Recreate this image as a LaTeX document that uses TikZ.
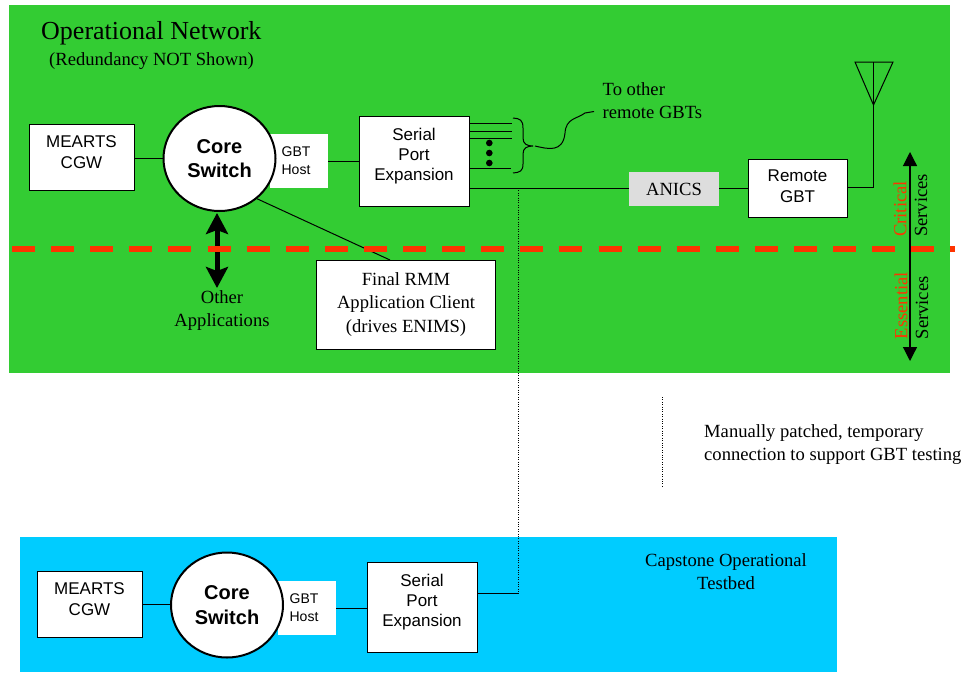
\documentclass[tikz,border=0pt]{standalone}
\usepackage{fontspec}
\setmainfont{Liberation Serif}
\setsansfont{Liberation Sans}
\usetikzlibrary{arrows.meta,shapes.geometric,calc}
\definecolor{netgreen}{HTML}{33CC33}
\definecolor{testblue}{HTML}{00CCFF}
\definecolor{critred}{HTML}{FF3300}
\definecolor{anicsgray}{HTML}{DDDDDD}
\newcommand{\toptext}[4]{\parbox[c][#1][t]{#2}{\centering\vspace*{#3}#4}}
\tikzset{
  box/.style={draw=black,fill=white,line width=1pt,inner sep=0pt,font=\sffamily\fontsize{17}{20.3}\selectfont},
  serifbox/.style={draw=black,fill=white,line width=1pt,inner sep=0pt,align=center,font=\fontsize{18.6}{23.3}\selectfont},
  hub/.style={ellipse,draw=black,fill=white,line width=2pt,minimum width=112pt,minimum height=105pt,inner sep=0pt,align=center,font=\sffamily\bfseries\fontsize{20}{24.6}\selectfont},
  tag/.style={fill=white,inner sep=0pt,font=\sffamily\fontsize{14}{18}\selectfont},
  lab/.style={align=center,inner sep=0pt,font=\fontsize{18.6}{23}\selectfont},
  lnk/.style={draw=black,line width=1pt},
  patch/.style={draw=black,line width=1pt,dash pattern=on 1pt off 1.4pt},
  vlab/.style={rotate=90,anchor=west,inner sep=0pt,font=\fontsize{18.6}{20}\selectfont},
  bigarrow/.style={draw=black,line width=5pt,{Stealth[length=21pt,width=22pt,inset=4pt]}-{Stealth[length=21pt,width=22pt,inset=4pt]}},
  thinarrow/.style={draw=black,line width=1.2pt,{Triangle[length=14pt,width=14pt]}-{Triangle[length=14pt,width=14pt]}},
  cutline/.style={draw=critred,line width=5.5pt,dash pattern=on 23pt off 16.1pt},
}
\begin{document}
\begin{tikzpicture}[x=1pt,y=-1pt]
\useasboundingbox (0,0) rectangle (963,672);
\fill[netgreen] (9,5) rectangle (950,373);
\fill[testblue] (20,537) rectangle (837,672);
% titles and free labels
\node[lab,anchor=west,font=\fontsize{26}{28}\selectfont] (title) at (41,33) {Operational Network};
\node[lab,anchor=west] (sub) at (49,61) {(Redundancy NOT Shown)};
\node[lab] (apps) at (222,310.5) {Other\\Applications};
\node[lab,anchor=west,align=left] (remote) at (602.5,101) {\hspace*{0pt}To other\\remote GBTs};
\node[lab,anchor=west,align=left] (manual) at (704,444.5) {Manually patched, temporary\\connection to support GBT testing};
\node[lab] (capstone) at (726,571.5) {Capstone Operational\\Testbed};
\node[vlab,text=critred] (crit) at (900,237) {Critical};
\node[vlab] (svc1) at (921,237) {Services};
\node[vlab,text=critred] (ess) at (901,339.5) {Essential};
\node[vlab] (svc2) at (922,339.5) {Services};
% operational nodes
\node[box,minimum width=105pt,minimum height=66pt] (cgw) at (81.5,157) {\toptext{66pt}{100pt}{12pt}{MEARTS\\CGW}};
\node[tag,minimum width=58pt,minimum height=54pt] (host) at (299,161) {\parbox{56pt}{\centering\hspace*{-6pt}GBT\\\hspace*{-6pt}Host}};
\node[hub] (core) at (219.5,158.5) {Core\\Switch};
\node[box,minimum width=110pt,minimum height=90pt] (spe) at (414,161) {\toptext{90pt}{105pt}{12pt}{Serial\\Port\\Expansion}};
\node[fill=anicsgray,inner sep=0pt,minimum width=90pt,minimum height=34pt,font=\fontsize{18.6}{20}\selectfont] (anics) at (674,189) {ANICS};
\node[box,minimum width=99pt,minimum height=58pt] (gbt) at (797.5,188) {\toptext{58pt}{95pt}{11pt}{Remote\\GBT}};
\node[serifbox,minimum width=179.5pt,minimum height=89pt] (rmm) at (406,304.5) {Final RMM\\Application Client\\(drives ENIMS)};
% testbed nodes
\node[box,minimum width=105pt,minimum height=66pt] (cgwb) at (89.5,604) {\toptext{66pt}{100pt}{12pt}{MEARTS\\CGW}};
\node[tag,minimum width=58pt,minimum height=54pt] (hostb) at (307,608) {\parbox{56pt}{\centering\hspace*{-6pt}GBT\\\hspace*{-6pt}Host}};
\node[hub] (coreb) at (227,605) {Core\\Switch};
\node[box,minimum width=110pt,minimum height=90pt] (speb) at (422,607) {\toptext{90pt}{105pt}{12pt}{Serial\\Port\\Expansion}};
% helper coordinates
\coordinate (p1) at (512,123.5);
\coordinate (p2) at (512,131);
\coordinate (p3) at (512,138);
\coordinate (p4) at (511,168.7);
\coordinate (brtip) at (533,146);
\coordinate (sq) at (535,146);
\coordinate (sqend) at (594,111.5);
\coordinate (ant) at (873.5,62);
\coordinate (antl) at (855,62);
\coordinate (antr) at (893,62);
\coordinate (apex) at (873.5,105);
\coordinate (bend) at (873.5,187.5);
\coordinate (rmmin) at (390,260);
\coordinate (tap) at (518.5,188);
\coordinate (tapb) at (518.5,593);
\coordinate (sw1) at (217,213);
\coordinate (sw2) at (217,288);
\coordinate (sv1) at (910,152);
\coordinate (sv2) at (910,361);
\coordinate (cutl) at (12,249);
\coordinate (cutr) at (955,249);
\coordinate (leg1) at (662,397);
\coordinate (leg2) at (662,488);
% operational links
\draw[lnk] (cgw.east |- 0,158) -- (core.west |- 0,158);
\draw[lnk] (host.east) -- (spe.west);
\draw[lnk] (core.-47) -- (rmmin);
\draw[lnk] (spe.east |- p1) -- (p1);
\draw[lnk] (spe.east |- p2) -- (p2);
\draw[lnk] (spe.east |- p3) -- (p3);
\draw[lnk] (spe.east |- p4) -- (p4);
\draw[lnk] (spe.east |- tap) -- (anics.west |- tap);
\draw[lnk] (anics.east |- tap) -- (gbt.west |- tap);
\draw[lnk] (gbt.east |- bend) -- (bend) -- (ant);
\draw[lnk,line join=miter] (antl) -- (antr) -- (apex) -- cycle;
\fill[black] (489.3,143) circle (3.3pt) (489.3,153) circle (3.3pt) (489.3,163) circle (3.3pt);
\draw[lnk] (513,118) .. controls (520,118.5) and (523,120) .. (523,128) -- (523,138) .. controls (523,144) and (527,146) .. (brtip) .. controls (527,146) and (523,148) .. (523,154) -- (523,164) .. controls (523,171) and (520,172.5) .. (513,173);
\draw[lnk] (sq) .. controls (548,149) and (563,153) .. (565,133) .. controls (566,118) and (577,119) .. (585,113) -- (sqend);
% testbed links
\draw[lnk] (cgwb.east |- 0,604) -- (coreb.west |- 0,604);
\draw[lnk] (hostb.east) -- (speb.west |- hostb.east);
\draw[lnk] (speb.east |- tapb) -- (tapb);
% patch line and legend
\draw[patch] (tap) -- (tapb);
\draw[patch] (leg1) -- (leg2);
% arrows and boundary
\draw[bigarrow] (sw1) -- (sw2);
\draw[thinarrow] (sv1) -- (sv2);
\draw[cutline] (cutl) -- (cutr);
\end{tikzpicture}
\end{document}
